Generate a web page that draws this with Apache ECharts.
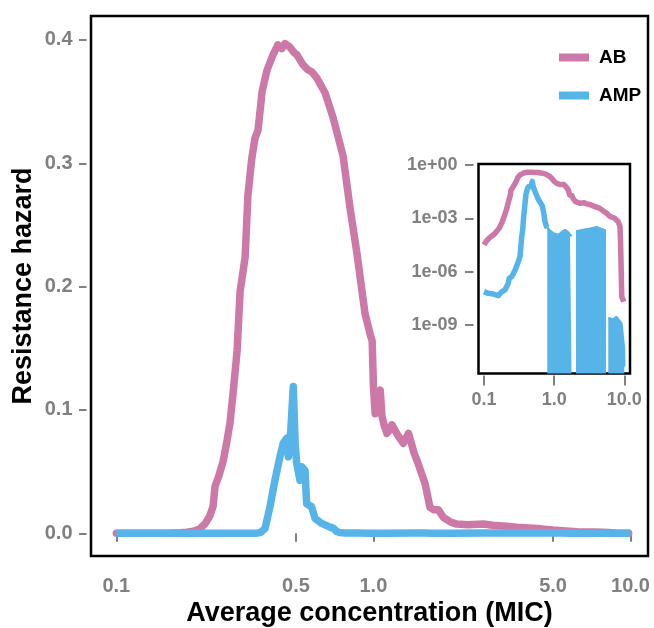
<!DOCTYPE html>
<html><head><meta charset="utf-8">
<script src="https://cdn.jsdelivr.net/npm/echarts@6/dist/echarts.min.js"></script>
<style>html,body{margin:0;padding:0;background:#fff}#c{width:654px;height:628px}</style>
</head><body><div id="c"></div><script>
// ---- data ----
const abConc = [0.100,0.109,0.122,0.143,0.165,0.177,0.188,0.200,0.211,0.222,0.231,0.238,0.242,0.250,0.260,0.268,0.277,0.285,0.295,0.303,0.310,0.317,0.325,0.336,0.346,0.356,0.369,0.385,0.407,0.425,0.440,0.453,0.461,0.474,0.490,0.504,0.532,0.555,0.577,0.603,0.649,0.697,0.762,0.811,0.863,0.928,0.975,0.989,1.000,1.016,1.040,1.063,1.080,1.100,1.128,1.160,1.181,1.240,1.306,1.370,1.440,1.490,1.590,1.660,1.720,1.790,1.870,2.000,2.110,2.330,2.680,2.910,3.300,3.600,4.490,5.000,5.600,6.200,7.300,8.200,8.690,8.900,9.200,9.840];
const abHazard = [3.2e-5,5.5e-5,8.5e-5,1.4e-4,2.8e-4,5e-4,9e-4,0.0018,0.0035,0.008,0.014,0.022,0.038,0.046,0.058,0.072,0.090,0.115,0.148,0.196,0.210,0.224,0.274,0.303,0.320,0.327,0.358,0.375,0.388,0.396,0.393,0.397,0.398,0.394,0.390,0.388,0.380,0.376,0.374,0.369,0.357,0.337,0.306,0.264,0.227,0.178,0.160,0.156,0.120,0.097,0.112,0.116,0.095,0.088,0.081,0.084,0.088,0.080,0.073,0.081,0.065,0.057,0.040,0.021,0.019,0.019,0.013,0.009,0.0075,0.007,0.0075,0.0065,0.0058,0.005,0.0036,0.0026,0.0019,0.0013,0.001,0.00065,0.00034,1.7e-5,3.9e-8,2e-8];
const ampConc = [0.100,0.115,0.136,0.160,0.179,0.199,0.222,0.229,0.248,0.277,0.308,0.326,0.345,0.356,0.366,0.379,0.396,0.414,0.433,0.446,0.460,0.467,0.474,0.488,0.496,0.503,0.518,0.526,0.542,0.550,0.575,0.593,0.630,0.678,0.700,0.720,0.740,0.780,0.798,0.872,0.973,1.144,1.428,1.590,1.680,1.770,1.790,2.040,2.050,2.590,3.270,4.040,5.050,5.480,5.500,5.900,5.910,6.980,7.720,9.100,9.840,10.00];
const ampHazard = [7.5e-8,6e-8,5.5e-8,4.5e-8,7.4e-8,9.3e-8,2.2e-7,4.2e-7,5.2e-7,1.2e-6,3.6e-6,6.9e-6,9.3e-5,2.2e-4,1.0e-3,0.004,0.0215,0.043,0.062,0.073,0.077,0.062,0.073,0.119,0.073,0.057,0.043,0.054,0.051,0.024,0.0215,0.012,0.008,0.005,0.004,0.0015,6.5e-4,3.4e-4,3.0e-4,2.0e-4,1.4e-4,1.15e-4,2.2e-4,1.6e-4,1.2e-4,1.0e-4,0,0,1.8e-4,2.2e-4,2.6e-4,3.2e-4,2.2e-4,2.0e-4,0,0,2.5e-9,2.0e-9,2.8e-9,1.2e-9,6e-11,4.5e-12];
const ampBandStart = 0.798; // from here the AMP hazard oscillates down to zero (drawn as filled band in the log inset)

const seriesNames = ['AB','AMP'];
const xTickValues = [0.1,0.5,1,5,10];
const xTickLabels = ['0.1','0.5','1.0','5.0','10.0'];
const yTickValues = [0,0.1,0.2,0.3,0.4];
const yTickLabels = ['0.0','0.1','0.2','0.3','0.4'];
const insetXTickValues = [0.1,1,10];
const insetXTickLabels = ['0.1','1.0','10.0'];
const insetYTickValues = [1,1e-3,1e-6,1e-9];
const insetYTickLabels = ['1e+00','1e-03','1e-06','1e-09'];

// ---- build ----
const pink = '#CC79A7', blue = '#56B4E9', gray = '#808080';
const font = "'Liberation Sans', Arial, sans-serif";
const pairs = (xs, ys) => xs.map((x, i) => [x, ys[i]]);
const abData = pairs(abConc, abHazard);
const ampData = pairs(ampConc, ampHazard);
const ampInsetLine = ampData.filter(d => d[0] <= ampBandStart);
const ampInsetBand = ampData.filter(d => d[0] >= ampBandStart).map(d => d[1] > 0 ? d : [d[0], null]);

function fmt(vals, labels) {
  return function (v) {
    for (let i = 0; i < vals.length; i++) {
      const t = vals[i];
      if (t === 0 ? Math.abs(v) < 1e-12 : Math.abs(v - t) <= Math.abs(t) * 1e-6) return labels[i];
    }
    return '';
  };
}
const tickLabelStyle = (size, m) => ({color: gray, fontSize: size, fontWeight: 'bold', fontFamily: font, margin: m});
const nameStyle = {color: '#000', fontSize: 27, fontWeight: 'bold', fontFamily: font};

const chart = echarts.init(document.getElementById('c'), null, {renderer: 'canvas'});
chart.setOption({
  animation: false,
  backgroundColor: '#fff',
  legend: {
    data: seriesNames, orient: 'vertical', left: 559, top: 48, itemGap: 19, padding: 0,
    icon: 'rect', itemWidth: 30, itemHeight: 8,
    textStyle: {color: '#000', fontSize: 19, fontWeight: 'bold', fontFamily: font, padding: [0, 0, 0, 5]},
    selectedMode: false
  },
  grid: [
    {left: 91, top: 16, width: 557, height: 540, show: true, borderColor: '#000', borderWidth: 2.5, backgroundColor: 'transparent', containLabel: false, outerBoundsMode: 'none'},
    {left: 478.5, top: 164, width: 151.5, height: 209.5, show: true, borderColor: '#000', borderWidth: 2.5, backgroundColor: '#fff', containLabel: false, outerBoundsMode: 'none'}
  ],
  xAxis: [
    {type: 'log', logBase: 10, gridIndex: 0, min: 0.07971, max: 11.70, offset: 4,
     axisLine: {show: false}, splitLine: {show: false},
     axisTick: {show: true, length: 8.5, customValues: xTickValues, lineStyle: {color: gray, width: 2}},
     axisLabel: Object.assign({customValues: xTickValues, formatter: fmt(xTickValues, xTickLabels)}, tickLabelStyle(20, 16)),
     name: 'Average concentration (MIC)', nameLocation: 'middle', nameGap: 40, nameMoveOverlap: false, nameTextStyle: nameStyle},
    {type: 'log', logBase: 10, gridIndex: 1, min: 0.08348, max: 12.06, offset: 2,
     axisLine: {show: false}, splitLine: {show: false},
     axisTick: {show: true, length: 10, customValues: insetXTickValues, lineStyle: {color: gray, width: 2}},
     axisLabel: Object.assign({customValues: insetXTickValues, formatter: fmt(insetXTickValues, insetXTickLabels)}, tickLabelStyle(18, 16))}
  ],
  yAxis: [
    {type: 'value', gridIndex: 0, min: -0.0184, max: 0.4194, offset: 4.5,
     axisLine: {show: false}, splitLine: {show: false},
     axisTick: {show: true, length: 7.5, customValues: yTickValues, lineStyle: {color: gray, width: 2}},
     axisLabel: Object.assign({customValues: yTickValues, formatter: fmt(yTickValues, yTickLabels)}, tickLabelStyle(20, 14)),
     name: 'Resistance hazard', nameLocation: 'middle', nameGap: 49, nameMoveOverlap: false, nameTextStyle: nameStyle},
    {type: 'log', logBase: 10, gridIndex: 1, min: 1.85e-12, max: 1.138, offset: 5,
     axisLine: {show: false}, splitLine: {show: false},
     axisTick: {show: true, length: 8.5, customValues: insetYTickValues, lineStyle: {color: gray, width: 2}},
     axisLabel: Object.assign({customValues: insetYTickValues, formatter: fmt(insetYTickValues, insetYTickLabels)}, tickLabelStyle(18, 16))}
  ],
  series: [
    {name: 'AB', type: 'line', xAxisIndex: 0, yAxisIndex: 0, data: abData, showSymbol: false, symbol: 'none',
     color: pink, lineStyle: {color: pink, width: 7.5, cap: 'round', join: 'round'}, z: 3},
    {name: 'AMP', type: 'line', xAxisIndex: 0, yAxisIndex: 0, data: ampData, showSymbol: false, symbol: 'none',
     color: blue, lineStyle: {color: blue, width: 7.5, cap: 'butt', join: 'round'}, z: 4},
    {name: 'AB', type: 'line', xAxisIndex: 1, yAxisIndex: 1, data: abData, showSymbol: false, symbol: 'none',
     color: pink, lineStyle: {color: pink, width: 5.5, join: 'round'}, z: 5},
    {name: 'AMP', type: 'line', xAxisIndex: 1, yAxisIndex: 1, data: ampInsetLine, showSymbol: false, symbol: 'none',
     color: blue, lineStyle: {color: blue, width: 5.5, join: 'round'}, z: 6},
    {name: 'AMP', type: 'line', xAxisIndex: 1, yAxisIndex: 1, data: ampInsetBand, showSymbol: false, symbol: 'none',
     connectNulls: false, color: blue, lineStyle: {color: blue, width: 2.5}, areaStyle: {color: blue, opacity: 1, origin: 1.85e-12}, z: 6}
  ]
});
</script></body></html>
